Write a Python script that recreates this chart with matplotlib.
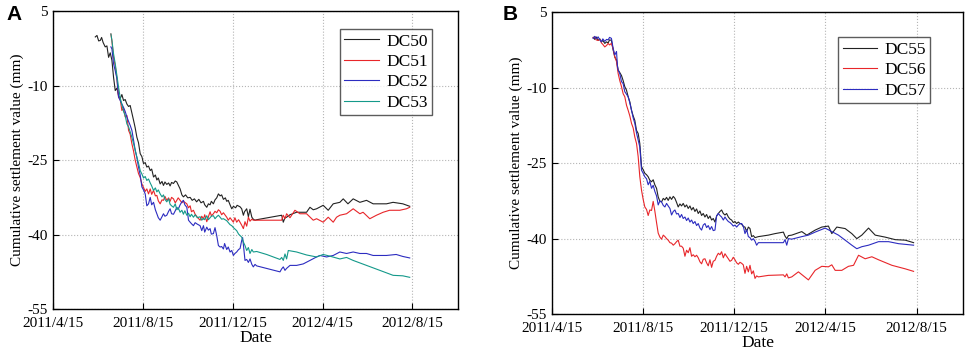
import numpy as np
import pandas as pd
import matplotlib
matplotlib.use('Agg')
import matplotlib.pyplot as plt

plt.rcParams['font.family'] = 'Liberation Serif'
plt.rcParams['axes.unicode_minus'] = False

# x values are days after 2011/4/15, y values settlement in mm
start = pd.Timestamp('2011-04-15')
xtick_labels = ['2011/4/15', '2011/8/15', '2011/12/15', '2012/4/15', '2012/8/15']
yticks = [5, -10, -25, -40, -55]

# panel A
dc50 = [(57.4, -0.2), (59.7, 0.1), (62, -1.0), (64.2, -0.9), (66, -0.3), (68, -1.3), (70.9, -2.2),
        (73.2, -2.0), (75.5, -4.3), (77.7, -3.4), (80, -4.9), (82.2, -8.3), (84.5, -11.0), (86.8, -10.5),
        (89, -12.0), (91.3, -12.6), (93.5, -11.8), (95.8, -13.0), (98, -12.8), (100.3, -13.7), (102.6, -14.2),
        (104.8, -14.0), (107.1, -15.5), (109.4, -17.0), (111.6, -18.5), (113.9, -20.4), (116.1, -21.5),
        (118.4, -23.7), (120.7, -24.3), (122.9, -25.7), (125.2, -25.5), (127.4, -26.4), (129.7, -26.2),
        (132, -27.1), (134, -26.8), (136.5, -28.4), (139, -28.0), (141, -29.0), (143, -28.6), (145.5, -29.8),
        (148, -29.3), (150, -30.1), (152, -29.4), (154.5, -29.9), (157, -29.6), (159, -30.2), (161, -29.5),
        (163.6, -29.7), (166, -29.2), (168.1, -29.4), (170, -30.0), (172.6, -30.8), (175, -32.0), (177.1, -32.4),
        (180, -32.0), (183, -32.6), (186.2, -32.5), (189, -33.1), (192, -32.8), (195, -33.4), (198, -32.9),
        (201, -33.6), (204.3, -33.3), (206, -34.0), (208.8, -34.5), (211, -33.8), (213.3, -34.0), (215, -33.3),
        (217.8, -33.8), (220, -33.0), (222.3, -32.6), (224.6, -31.8), (226.9, -32.2), (229, -32.0), (231.4, -32.9),
        (234, -32.6), (235.9, -33.3), (238, -33.1), (240.4, -34.0), (242.7, -34.8), (245, -34.3), (248, -34.6),
        (250, -34.1), (254, -34.4), (256.2, -34.8), (258.5, -36.1), (260, -35.4), (263, -34.8), (265.3, -36.4),
        (267.5, -34.9), (270, -36.5), (272, -36.9), (274.3, -37.1), (276.6, -37.0), (310.5, -36.1), (312.7, -37.5),
        (315, -36.6), (317.2, -36.5), (321.8, -36.0), (330.8, -35.5), (344.3, -35.5), (348.9, -34.5), (353.4, -35.0),
        (357.9, -34.8), (366.9, -34.1), (373.7, -35.1), (380.5, -33.8), (389.5, -33.5), (394.1, -32.8),
        (400.5, -33.8), (407.6, -32.8), (416.7, -33.5), (425.7, -33.1), (434.7, -33.8), (452.8, -33.8),
        (461.8, -33.5), (475, -33.8), (484.4, -34.3)]

dc51 = [(78.6, 0.4), (80, -1.0), (82.2, -4.3), (84.5, -6.0), (86.8, -8.6), (89, -12.3), (91.3, -12.8),
        (93.5, -15.0), (95.8, -14.6), (98, -16.3), (100.3, -16.0), (102.6, -19.0), (104.8, -19.8), (107.1, -21.7),
        (109.4, -23.2), (111.6, -25.0), (113.9, -26.4), (116.1, -27.7), (118.4, -28.5), (120.7, -29.8),
        (122.9, -30.5), (125.2, -31.3), (127.4, -30.8), (129.7, -31.8), (132, -30.8), (134, -31.9), (136.5, -31.1),
        (139, -32.2), (141, -32.1), (143, -33.2), (145.5, -33.8), (148, -33.0), (150, -33.1), (152, -32.3),
        (154.5, -33.1), (157, -32.6), (159, -33.3), (161, -32.5), (163.6, -32.8), (166, -33.6), (168.1, -33.1),
        (170, -32.6), (172.6, -33.1), (175, -33.6), (177.1, -33.3), (181.7, -33.8), (184, -34.6), (186.2, -34.2),
        (188, -35.4), (190.7, -35.1), (193, -35.9), (196, -36.5), (199.7, -37.1), (202, -36.3), (204.3, -36.9),
        (206, -36.0), (208.8, -37.4), (211, -36.4), (213.3, -35.4), (215, -36.2), (217.8, -35.8), (220, -35.3),
        (222.3, -35.6), (224.6, -35.0), (226.9, -35.3), (229, -36.0), (231.4, -35.6), (235.9, -36.5), (238, -37.1),
        (240.4, -36.6), (244.9, -37.5), (247, -36.6), (249.4, -37.5), (252, -37.0), (256.2, -38.1), (258.5, -38.8),
        (260.7, -37.4), (263, -38.3), (265.3, -36.5), (267.5, -37.3), (270, -36.9), (272, -37.1), (276.6, -37.1),
        (310.5, -37.1), (312.7, -36.1), (315, -36.8), (317.2, -35.8), (321.8, -36.6), (328.5, -35.1),
        (335.3, -35.8), (344.3, -35.8), (353.4, -37.1), (357.9, -36.8), (366.9, -37.5), (373.7, -36.5),
        (380.5, -37.5), (385, -36.5), (389.5, -36.1), (398.6, -35.8), (407.6, -34.8), (416.7, -35.8),
        (421, -35.5), (430.2, -36.8), (439.2, -36.1), (448.3, -35.5), (457, -35.1), (470.9, -35.1),
        (479.9, -34.8), (484.4, -34.5)]

dc52 = [(78.6, -2.2), (80, -2.6), (82.2, -5.6), (84.5, -7.0), (86.8, -8.6), (89, -12.3), (91.3, -13.0),
        (93.5, -13.7), (95.8, -14.4), (98, -15.2), (100.3, -16.3), (102.6, -17.2), (104.8, -18.0), (107.1, -19.0),
        (109.4, -21.0), (111.6, -23.0), (113.9, -24.5), (116.1, -26.4), (118.4, -28.0), (120.7, -30.4),
        (122.9, -31.0), (125.2, -31.8), (127.4, -34.2), (129.7, -33.8), (132, -32.5), (134, -34.0), (136.5, -33.5),
        (139, -35.0), (141, -35.8), (143, -36.6), (145.5, -37.1), (148, -36.4), (150, -35.8), (152, -36.3),
        (154.5, -36.1), (157, -35.3), (159, -34.8), (161, -35.8), (163.6, -35.9), (166, -35.2), (168.1, -34.5),
        (170, -34.9), (172.6, -34.0), (175, -33.4), (177.1, -33.1), (179, -34.0), (181.7, -34.5), (184, -37.1),
        (186.2, -37.5), (188, -37.8), (190.7, -38.2), (193, -37.6), (196, -37.9), (199.7, -38.2), (202, -39.2),
        (204.3, -38.2), (206, -39.5), (208.8, -38.5), (211, -39.1), (213.3, -38.8), (215, -39.9), (217.8, -39.8),
        (220, -38.6), (222.3, -40.2), (224.6, -42.2), (226.9, -42.5), (229, -42.4), (231.4, -42.9), (233, -41.8),
        (235.9, -43.0), (238, -42.5), (240.4, -43.5), (242.7, -43.2), (244.9, -44.2), (247, -43.8), (249.4, -43.5),
        (252, -43.0), (254, -42.8), (256.2, -41.2), (257.5, -40.6), (258.5, -42.0), (260.7, -45.2), (263, -45.0),
        (265.3, -45.6), (267.5, -44.9), (270, -46.0), (272, -46.5), (274.3, -46.0), (276.6, -46.3), (308.2, -47.5),
        (310.5, -46.9), (312.7, -46.5), (315, -47.2), (317.2, -46.8), (321.8, -46.2), (330.8, -46.2),
        (339.8, -45.9), (348.9, -45.2), (357.9, -44.5), (362.4, -44.2), (371.5, -44.5), (380.5, -44.2),
        (389.5, -43.5), (398.6, -43.8), (407.6, -43.5), (416.7, -43.8), (425.7, -43.8), (434.7, -44.2),
        (452.8, -44.2), (466, -44.0), (475, -44.4), (484.4, -44.7)]

dc53 = [(78.6, 0.4), (80, -0.9), (82.2, -3.6), (84.5, -5.6), (86.8, -8.0), (89, -10.3), (91.3, -12.5),
        (93.5, -13.8), (95.8, -15.2), (98, -16.0), (100.3, -17.7), (102.6, -18.3), (104.8, -19.3), (107.1, -20.4),
        (109.4, -21.7), (111.6, -23.0), (113.9, -24.4), (116.1, -25.6), (118.4, -27.1), (120.7, -27.8),
        (122.9, -28.6), (125.2, -28.3), (127.4, -29.1), (129.7, -28.8), (132, -29.6), (134, -30.2), (136.5, -31.1),
        (139, -30.6), (141, -31.4), (143, -31.0), (145.5, -31.8), (148, -32.4), (150, -32.0), (152, -32.9),
        (154.5, -33.4), (157, -32.8), (159, -33.9), (161, -34.2), (163.6, -34.5), (166, -33.8), (168.1, -35.0),
        (170, -34.6), (172.6, -35.5), (175, -35.1), (177.1, -35.9), (179, -35.2), (181.7, -36.1), (184, -35.7),
        (186.2, -36.4), (188, -35.9), (190.7, -36.5), (193, -36.0), (196, -36.6), (199.7, -36.4), (202, -37.1),
        (204.3, -36.7), (206, -37.0), (208.8, -36.2), (211, -37.0), (213.3, -36.6), (215, -36.3), (217.8, -36.2),
        (220, -36.8), (222.3, -36.4), (224.6, -36.1), (226.9, -36.5), (229, -36.9), (231.4, -36.8), (235.9, -37.2),
        (240.4, -38.0), (242.7, -38.2), (245, -38.6), (249.4, -39.2), (252, -39.9), (256.2, -40.5), (258.5, -41.5),
        (260.7, -42.2), (263, -43.2), (265.3, -42.6), (267.5, -43.8), (270, -43.0), (272, -43.5), (276.6, -43.4),
        (290.1, -44.0), (308.2, -45.0), (310.5, -44.6), (312.7, -45.2), (315, -43.9), (317.2, -44.9),
        (319.5, -43.2), (330.8, -43.5), (344.3, -44.1), (357.9, -44.5), (366.9, -44.0), (375, -44.3),
        (389.5, -44.9), (398.6, -44.6), (407.6, -45.2), (425.7, -46.2), (443.8, -47.2), (461.8, -48.2),
        (475, -48.3), (484.4, -48.6)]

# panel B
dc55 = [(55, 0.0), (57.2, -0.4), (59, 0.1), (61.7, -0.6), (64, -0.3), (66.1, -0.9), (68, -0.6), (70.6, -1.2),
        (73, -0.9), (75.1, -1.1), (77, -0.5), (79.5, -0.6), (81.8, -2.5), (84, -3.9), (86.3, -4.5), (88.5, -6.5),
        (90.7, -7.0), (93, -7.6), (95.2, -8.6), (97.4, -9.8), (99.7, -10.5), (101.9, -11.8), (104.1, -12.8),
        (106.4, -14.5), (108.6, -15.6), (110.8, -16.5), (113.1, -18.5), (115.3, -19.1), (117.5, -21.1),
        (119.8, -25.7), (122, -26.3), (124.2, -27.0), (126.5, -27.3), (128.7, -27.7), (130.9, -28.4),
        (133.2, -28.7), (135.4, -28.3), (137.6, -29.3), (139.9, -30.0), (142.1, -31.7), (144.4, -32.6),
        (146.6, -32.7), (148.9, -32.0), (151.1, -32.3), (153.3, -31.8), (155.5, -32.4), (157.8, -31.7),
        (160, -32.2), (162.3, -31.6), (164.5, -32.0), (166.7, -32.8), (168.9, -33.7), (171.2, -33.1),
        (173.4, -33.5), (175.6, -33.0), (177.9, -33.7), (180.1, -33.3), (182.3, -34.0), (184.6, -33.5),
        (186.8, -34.3), (189, -33.8), (191.3, -34.6), (193.5, -34.1), (195.7, -35.0), (198, -34.5), (200.2, -35.4),
        (202.4, -35.0), (204.7, -35.7), (206.9, -35.2), (209.1, -36.0), (211.4, -35.5), (213.6, -36.3),
        (215.8, -36.0), (218.1, -36.7), (220.3, -35.5), (222.6, -35.0), (224.8, -34.6), (227, -34.3),
        (229.3, -35.0), (231.5, -35.3), (233.7, -35.0), (236, -35.7), (238.2, -36.1), (240.4, -36.3),
        (242.6, -36.8), (244.9, -36.6), (247.1, -37.0), (249.4, -36.7), (251.6, -37.0), (253.8, -37.1),
        (256, -37.6), (258.3, -37.7), (260.5, -38.6), (262.8, -37.7), (265, -38.0), (267.2, -39.6), (269.5, -39.4),
        (271.7, -39.8), (276.2, -39.6), (289.6, -39.3), (298.5, -39.0), (309.7, -38.7), (311.9, -39.5),
        (314.2, -40.0), (316.4, -39.4), (320.9, -39.3), (334.3, -38.6), (341, -39.3), (352.2, -38.3),
        (361.1, -37.7), (370, -37.5), (374.5, -39.0), (381.2, -37.7), (392.4, -38.0), (401.3, -39.0),
        (408, -40.0), (414.7, -39.3), (423.7, -37.9), (432.6, -39.3), (446, -39.7), (459.4, -40.2),
        (472.8, -40.3), (484, -40.8)]

dc56 = [(55, -0.1), (57.2, 0.1), (59, -0.5), (61.7, -0.6), (64, -0.4), (66.1, -1.1), (68, -1.4), (70.6, -1.9),
        (73, -1.6), (75.1, -1.2), (77, -1.5), (79.5, -1.2), (81.8, -2.3), (84, -3.9), (86.3, -4.8), (88.5, -7.2),
        (90.7, -8.6), (93, -9.8), (95.2, -11.2), (97.4, -11.8), (99.7, -13.5), (101.9, -14.5), (104.1, -15.6),
        (106.4, -17.1), (108.6, -18.0), (110.8, -19.8), (113.1, -21.1), (115.3, -23.7), (117.5, -27.7),
        (119.8, -30.4), (122, -32.2), (124.2, -33.7), (126.5, -34.2), (128.7, -35.4), (130.9, -34.3),
        (133.2, -34.4), (135.4, -32.6), (137.6, -34.5), (139.9, -36.8), (142.1, -38.9), (144.4, -39.7),
        (146.6, -40.1), (148.9, -39.3), (151.1, -39.6), (153.3, -40.0), (155.5, -40.3), (157.8, -40.8),
        (160, -40.9), (162.3, -41.3), (164.5, -41.0), (166.7, -40.6), (168.9, -40.3), (171.2, -41.5),
        (173.4, -41.5), (175.6, -41.9), (177.9, -43.5), (180.1, -42.3), (182.3, -42.8), (184.6, -41.8),
        (186.8, -43.5), (189, -43.2), (191.3, -43.6), (193.5, -43.3), (195.7, -43.8), (198, -44.6), (200.2, -45.0),
        (202.4, -44.1), (204.7, -44.0), (206.9, -44.8), (209.1, -45.4), (211.4, -44.2), (213.6, -45.7),
        (215.8, -44.5), (218.1, -44.3), (220.3, -43.5), (222.6, -42.9), (224.8, -43.2), (227, -42.6),
        (229.3, -43.8), (231.5, -43.0), (233.7, -43.5), (236, -44.0), (238.2, -44.5), (240.4, -44.3),
        (242.6, -43.7), (244.9, -44.2), (247.1, -44.8), (249.4, -45.1), (251.6, -44.7), (253.8, -44.9),
        (256, -45.2), (258.3, -46.9), (260.5, -45.5), (262.8, -46.6), (265, -45.3), (267.2, -47.0), (269.5, -46.4),
        (271.7, -47.9), (273.9, -47.4), (276.2, -47.6), (289.6, -47.3), (309.7, -47.2), (311.9, -47.6),
        (314.2, -47.0), (316.4, -47.8), (320.9, -47.6), (329.8, -46.6), (343.2, -48.2), (352.2, -46.3),
        (361.1, -45.5), (370, -45.6), (374.5, -45.2), (379, -46.3), (387.9, -46.3), (396.8, -45.5),
        (403.6, -45.3), (410.3, -43.3), (419.2, -44.0), (428.1, -43.6), (437.1, -44.2), (455, -45.3),
        (472.8, -46.0), (484, -46.5)]

dc57 = [(55, -0.2), (57.2, 0.2), (59, -0.3), (61.7, 0.1), (64, -0.5), (66.1, -0.9), (68, -0.3), (70.6, -0.8),
        (73, -0.4), (75.1, -0.5), (77, 0.0), (79.5, -0.2), (81.8, -2.2), (84, -3.5), (86.3, -2.8), (87.6, -5.8),
        (88.5, -6.5), (90.7, -7.2), (93, -8.8), (95.2, -9.2), (97.4, -10.8), (99.7, -11.3), (101.9, -11.8),
        (104.1, -13.0), (106.4, -14.5), (108.6, -16.0), (110.8, -17.1), (113.1, -19.0), (115.3, -20.4),
        (117.5, -21.8), (119.8, -26.4), (122, -27.0), (124.2, -27.7), (126.5, -28.1), (128.7, -29.3),
        (130.9, -28.6), (133.2, -30.0), (135.4, -29.4), (137.6, -30.6), (139.9, -31.5), (142.1, -33.3),
        (144.4, -32.5), (146.6, -32.7), (148.9, -33.4), (151.1, -33.7), (153.3, -33.0), (155.5, -33.5),
        (157.8, -34.0), (160, -35.3), (162.3, -34.6), (164.5, -34.3), (166.7, -35.1), (168.9, -35.0),
        (171.2, -35.8), (173.4, -35.2), (175.6, -36.0), (177.9, -35.7), (180.1, -36.4), (182.3, -35.9),
        (184.6, -36.7), (186.8, -36.3), (189, -37.0), (191.3, -36.6), (193.5, -37.4), (195.7, -37.0),
        (198, -37.9), (200.2, -38.3), (202.4, -37.3), (204.7, -37.0), (206.9, -37.8), (209.1, -37.4),
        (211.4, -38.2), (213.6, -37.6), (215.8, -38.4), (218.1, -38.3), (220.3, -35.5), (222.6, -35.0),
        (224.8, -35.4), (227, -35.7), (229.3, -36.3), (231.5, -35.7), (233.7, -36.2), (236, -36.6),
        (238.2, -36.8), (240.4, -37.1), (242.6, -37.5), (244.9, -37.3), (247.1, -37.7), (249.4, -37.3),
        (251.6, -37.0), (253.8, -37.0), (256, -37.5), (258.3, -39.0), (260.5, -38.2), (262.8, -39.6),
        (265, -39.8), (267.2, -40.3), (269.5, -40.0), (271.7, -40.5), (273.9, -41.3), (276.2, -40.8),
        (289.6, -40.8), (309.7, -40.8), (311.9, -40.2), (314.2, -41.3), (316.4, -40.0), (320.9, -40.1),
        (334.3, -39.6), (343.2, -39.3), (352.2, -38.7), (365.6, -37.9), (374.5, -38.6), (383.4, -39.3),
        (392.4, -40.3), (401.3, -41.3), (408, -42.0), (414.7, -41.6), (423.7, -41.3), (437.1, -40.6),
        (450.5, -40.6), (463.9, -41.0), (484, -41.3)]

panel_a = [('DC50', dc50, '#222222'), ('DC51', dc51, '#e8262a'),
           ('DC52', dc52, '#2c2cc0'), ('DC53', dc53, '#14998a')]
panel_b = [('DC55', dc55, '#222222'), ('DC56', dc56, '#e8262a'), ('DC57', dc57, '#2c2cc0')]

fig = plt.figure(figsize=(9.69, 3.59), dpi=100)
ax1 = fig.add_axes([0.0547, 0.139, 0.418, 0.830])
ax2 = fig.add_axes([0.5697, 0.125, 0.424, 0.841])

xticks = pd.to_datetime(xtick_labels, format='%Y/%m/%d')


def draw(ax, series, anchor):
    for name, pts, color in series:
        d = np.array(pts)
        x = start + pd.to_timedelta(d[:, 0], unit='D')
        ax.plot(x, d[:, 1], color=color, lw=0.8, label=name)
    ax.set_xlim(start, start + pd.Timedelta(days=550))
    ax.set_ylim(-55, 5)
    ax.set_xticks(xticks)
    ax.set_xticklabels(xtick_labels)
    ax.set_yticks(yticks)
    ax.tick_params(direction='in', length=4, width=0.8, labelsize=11)
    ax.tick_params(axis='x', pad=6)
    ax.tick_params(axis='y', pad=4)
    ax.grid(True, ls=':', color='#b5b5b5', lw=0.8)
    for s in ax.spines.values():
        s.set_linewidth(1.0)
    ax.set_xlabel('Date', fontsize=12.5, labelpad=0)
    ax.set_ylabel('Cumulative settlement value (mm)', fontsize=11, labelpad=2)
    leg = ax.legend(loc='upper right', bbox_to_anchor=anchor, fancybox=False, edgecolor='#333333',
                    fontsize=12.5, handlelength=2.0, handletextpad=0.4, borderpad=0.25,
                    labelspacing=0.25, borderaxespad=0)
    leg.get_frame().set_linewidth(1.0)


draw(ax1, panel_a, (0.936, 0.94))
draw(ax2, panel_b, (0.920, 0.917))

fig.text(0.007, 0.986, 'A', fontsize=15, fontweight='bold', family='Liberation Sans', va='top')
fig.text(0.519, 0.986, 'B', fontsize=15, fontweight='bold', family='Liberation Sans', va='top')

fig.savefig('out.png', dpi=100)
